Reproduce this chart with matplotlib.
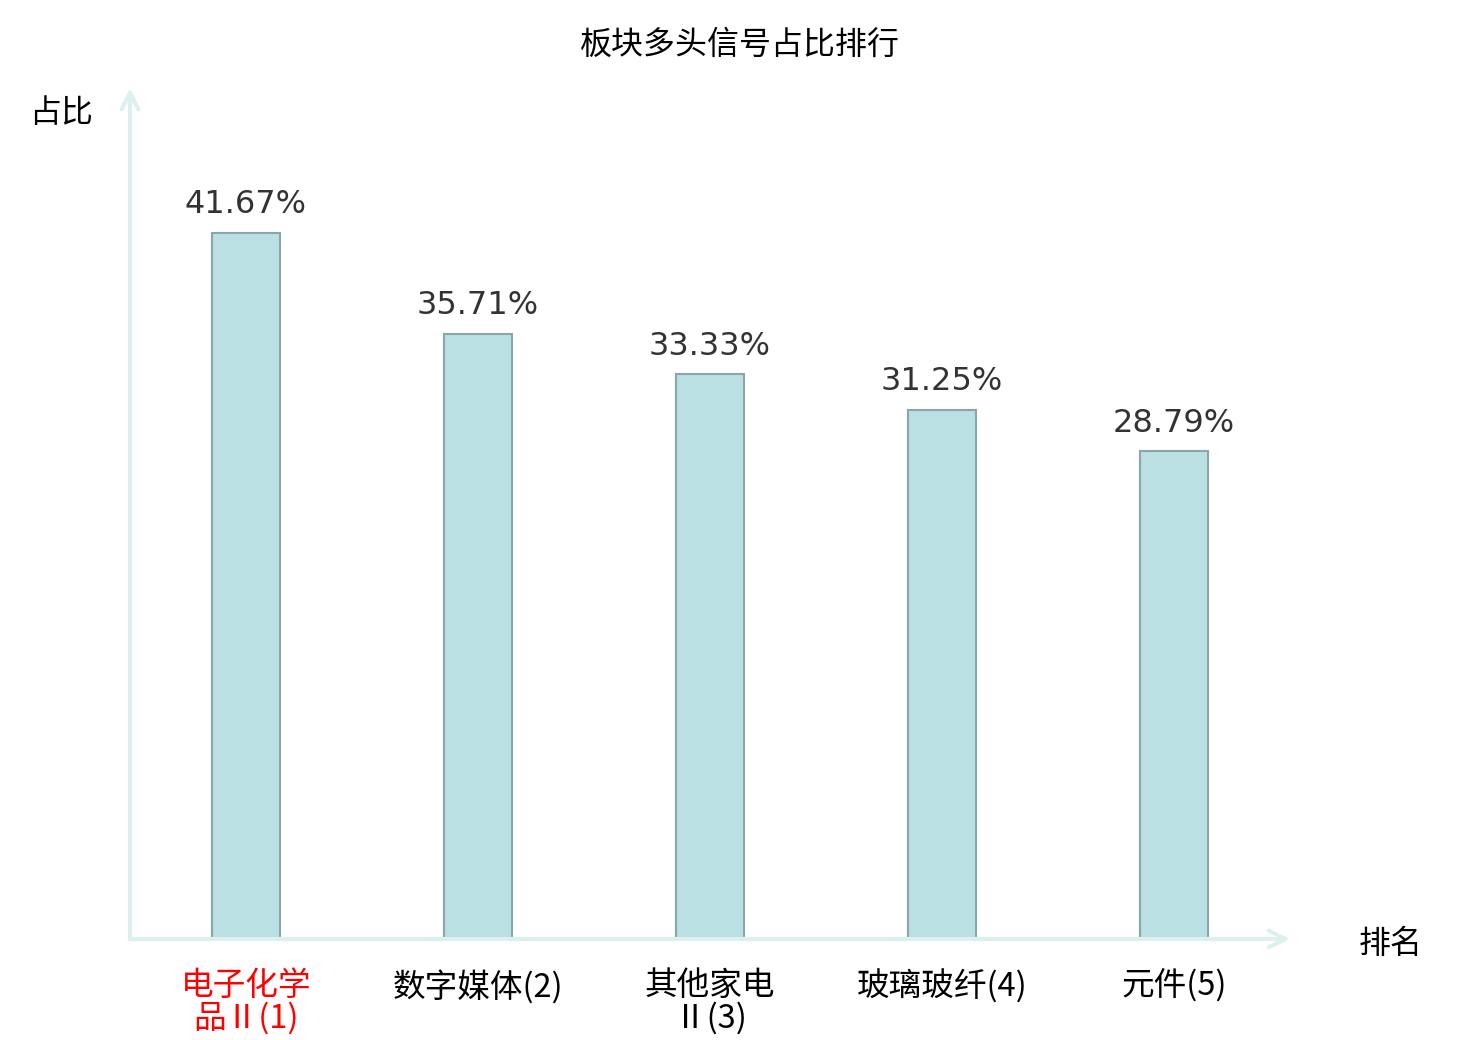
import matplotlib
matplotlib.use("Agg")
import matplotlib.pyplot as plt

plt.rcParams['font.family'] = ['Noto Sans CJK SC', 'DejaVu Sans']

# 数据
sectors = ["电子化学品Ⅱ", "数字媒体", "其他家电Ⅱ", "玻璃玻纤", "元件"]
ranks = [1, 2, 3, 4, 5]
ratios = [41.67, 35.71, 33.33, 31.25, 28.79]

axis_color = "#dcf1ef"
bar_color = "#bbe0e3"
edge_color = "#8aa6a8"


def wrap_label(name, rank, n=4):
    text = f"{name}({rank})"
    if len(name) > n:
        return text[:n] + "\n" + text[n:]
    return text


fig = plt.figure(figsize=(14.8, 10.4), dpi=100)
ax = fig.add_axes([130 / 1480, 101 / 1040, 1160 / 1480, 851 / 1040])

x = list(range(len(sectors)))
bars = ax.bar(x, ratios, width=68 / 232, color=bar_color,
              edgecolor=edge_color, linewidth=1.5, zorder=2)

for b, v in zip(bars, ratios):
    ax.text(b.get_x() + b.get_width() / 2, v + 0.75, f"{v:.2f}%",
            ha="center", va="bottom", fontsize=23, color="#333333",
            family=['DejaVu Sans'])

ax.set_xlim(-0.5, len(sectors) - 0.5)
ax.set_ylim(0, 50.23)

for s in ax.spines.values():
    s.set_visible(False)
ax.set_yticks([])
ax.set_xticks(x)
labels = [wrap_label(n, r) for n, r in zip(sectors, ranks)]
ax.set_xticklabels(labels, fontsize=23.5, linespacing=1.0)
ax.tick_params(axis="x", length=0, pad=22)
ax.get_xticklabels()[0].set_color("red")

# 坐标轴箭头
ax.annotate("", xy=(1.0, 0), xytext=(0, 0), xycoords="axes fraction",
            arrowprops=dict(arrowstyle="->", color=axis_color, lw=3,
                            mutation_scale=30, shrinkA=0, shrinkB=0))
ax.annotate("", xy=(0, 1.0), xytext=(0, 0), xycoords="axes fraction",
            arrowprops=dict(arrowstyle="->", color=axis_color, lw=3,
                            mutation_scale=30, shrinkA=0, shrinkB=0))

fig.text(93 / 1480, 1 - 113 / 1040, "占比", ha="right", va="center", fontsize=23)
fig.text(1391 / 1480, 1 - 944 / 1040, "排名", ha="center", va="center", fontsize=23)
fig.text(740 / 1480, 1 - 45 / 1040, "板块多头信号占比排行", ha="center",
         va="center", fontsize=23)

fig.savefig("out.png", dpi=100)
